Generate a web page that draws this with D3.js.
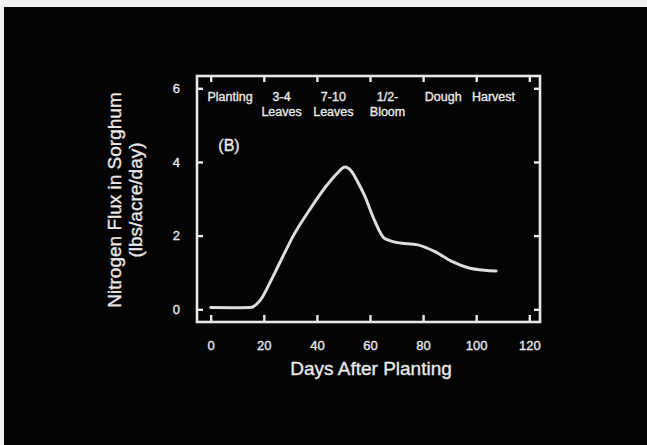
<!DOCTYPE html>
<html>
<head>
<meta charset="utf-8">
<script src="https://cdn.jsdelivr.net/npm/d3@7"></script>
<style>
html,body{margin:0;padding:0;background:#fff;}
svg{display:block;}
text{font-family:"Liberation Sans",Arial,Helvetica,sans-serif;fill:#e8e8e8;stroke:#e8e8e8;stroke-width:0.35px;}
</style>
</head>
<body>
<svg id="chart" width="647" height="445"></svg>
<script>
// ---- data ----
const days = [0, 8, 15, 18.7, 22.5, 26.2, 31.3, 37.6, 43.9, 48, 50.5, 53, 55.3, 57.8, 61.6, 65.4, 70.4, 78, 84.3, 90.6, 97, 103, 107.5];
const nFlux = [0.05, 0.045, 0.05, 0.25, 0.75, 1.29, 2.02, 2.74, 3.38, 3.72, 3.86, 3.75, 3.47, 3.11, 2.43, 1.93, 1.81, 1.75, 1.57, 1.31, 1.13, 1.06, 1.04];
const xTicks = [0, 20, 40, 60, 80, 100, 120];
const yTicks = [0, 2, 4, 6];
const stageLine1 = ["Planting", "3-4", "7-10", "1/2-", "Dough", "Harvest"];
const stageLine2 = ["", "Leaves", "Leaves", "Bloom", "", ""];
const stageDay = [7.3, 26.7, 46.2, 66.6, 87.6, 106.5];
const panelLabel = "(B)";
const xTitle = "Days After Planting";
const yTitle1 = "Nitrogen Flux in Sorghum";
const yTitle2 = "(lbs/acre/day)";

// ---- layout ----
const svg = d3.select("#chart");
const fg = "#e8e8e8";
svg.append("rect").attr("x", 0).attr("y", 0).attr("width", 647).attr("height", 445).attr("fill", "#f2f2f2");
svg.append("rect").attr("x", 4).attr("y", 7).attr("width", 643).attr("height", 438).attr("fill", "#040404");

const frame = {left: 197, right: 540, top: 76, bottom: 322};
const x = d3.scaleLinear().domain([0, 120]).range([210.7, 529.3]);
const y = d3.scaleLinear().domain([0, 6]).range([309.3, 88.3]);

// frame
svg.append("rect")
  .attr("x", frame.left).attr("y", frame.top)
  .attr("width", frame.right - frame.left).attr("height", frame.bottom - frame.top)
  .attr("fill", "none").attr("stroke", fg).attr("stroke-width", 2.6);

const tickStyle = g => {
  g.select(".domain").remove();
  g.selectAll(".tick line").attr("stroke", fg).attr("stroke-width", 2.4);
  g.selectAll(".tick text").attr("fill", fg).style("font-size", "13px")
    .style("font-family", "'Liberation Sans',Arial,sans-serif");
};

const fmt = d3.format("d");

// bottom axis: ticks pointing up, labels below
const xAxisB = svg.append("g").attr("transform", `translate(0,${frame.bottom})`)
  .call(d3.axisBottom(x).tickValues(xTicks).tickFormat(fmt).tickSizeInner(-7).tickSizeOuter(0).tickPadding(19));
tickStyle(xAxisB);

// top axis: ticks pointing down, no labels
const xAxisT = svg.append("g").attr("transform", `translate(0,${frame.top})`)
  .call(d3.axisTop(x).tickValues(xTicks).tickSizeInner(-6).tickSizeOuter(0).tickFormat(""));
tickStyle(xAxisT);

// left axis
const yAxisL = svg.append("g").attr("transform", `translate(${frame.left},0)`)
  .call(d3.axisLeft(y).tickValues(yTicks).tickFormat(fmt).tickSizeInner(-6).tickSizeOuter(0).tickPadding(17));
tickStyle(yAxisL);

// right axis
const yAxisR = svg.append("g").attr("transform", `translate(${frame.right},0)`)
  .call(d3.axisRight(y).tickValues(yTicks).tickSizeInner(-6).tickSizeOuter(0).tickFormat(""));
tickStyle(yAxisR);

// curve
const line = d3.line()
  .x((d, i) => x(days[i]))
  .y((d, i) => y(nFlux[i]))
  .curve(d3.curveMonotoneX);
svg.append("path")
  .attr("d", line(days))
  .attr("fill", "none")
  .attr("stroke", "#dcdcdc")
  .attr("stroke-width", 3)
  .attr("stroke-linecap", "round")
  .attr("stroke-linejoin", "round");

// stage labels
const stages = svg.append("g").style("font-size", "12.5px").attr("text-anchor", "middle");
stageLine1.forEach((s, i) => {
  stages.append("text").attr("x", x(stageDay[i])).attr("y", 101).text(s);
  if (stageLine2[i]) stages.append("text").attr("x", x(stageDay[i])).attr("y", 116).text(stageLine2[i]);
});

// panel label
svg.append("text").attr("x", 229).attr("y", 151).attr("text-anchor", "middle")
  .style("font-size", "16px").text(panelLabel);

// axis titles
svg.append("text").attr("x", 371).attr("y", 375).attr("text-anchor", "middle")
  .style("font-size", "19px").text(xTitle);
svg.append("text").attr("transform", "translate(121,200) rotate(-90)")
  .attr("text-anchor", "middle").style("font-size", "19px").text(yTitle1);
svg.append("text").attr("transform", "translate(142,200) rotate(-90)")
  .attr("text-anchor", "middle").style("font-size", "19px").text(yTitle2);
</script>
</body>
</html>
